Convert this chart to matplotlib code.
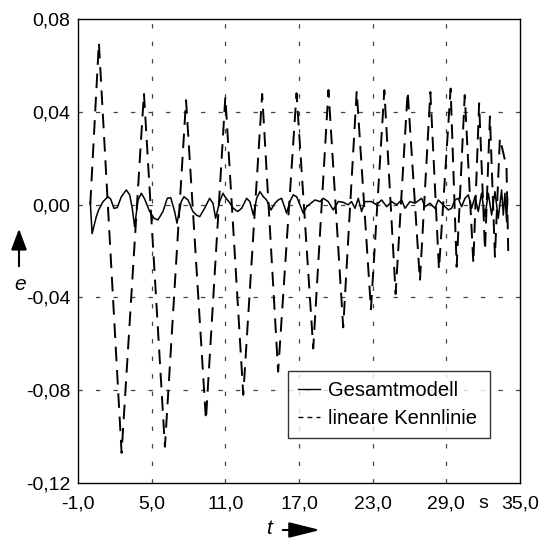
import matplotlib
matplotlib.use("Agg")
import matplotlib.pyplot as plt
from matplotlib.lines import Line2D

plt.rcParams['font.family'] = ['Liberation Sans', 'DejaVu Sans']

# ---- data ----
# "lineare Kennlinie": extrema
t_lin = [0.0, 0.7, 2.55, 4.37, 6.08, 7.8, 9.42, 11.0, 12.46, 14.0, 15.3, 16.8,
         18.16, 19.4, 20.6, 21.7, 22.86, 23.95, 24.87, 25.85, 26.85, 27.7, 28.4,
         29.35, 29.84, 30.5, 31.2, 31.67, 32.15, 32.55, 32.96, 33.36, 33.9, 34.04]
e_lin = [0.0, 0.0698, -0.107, 0.048, -0.1044, 0.045, -0.0928, 0.0464, -0.082,
         0.0477, -0.072, 0.048, -0.062, 0.0494, -0.0529, 0.049, -0.0451, 0.0493,
         -0.0385, 0.0488, -0.0328, 0.0485, -0.028, 0.050, -0.0268, 0.0472,
         -0.0253, 0.0437, -0.0196, 0.038, -0.0225, 0.0286, 0.0163, -0.020]

# "Gesamtmodell"
t_ges = [0.0, 0.15, 0.49, 0.68, 1.04, 1.44, 1.66, 1.93, 2.20, 2.53, 2.94, 3.21,
         3.42, 3.61, 3.89, 4.16, 4.43, 4.84, 5.19, 5.51, 5.92, 6.27, 6.55, 6.87,
         7.06, 7.41, 7.63, 7.96, 8.36, 8.64, 8.91, 9.31, 9.72, 9.99, 10.21, 10.54,
         10.81, 10.97, 11.38, 11.65, 12.0, 12.33, 12.73, 13.0, 13.28, 13.55, 13.82,
         14.09, 14.36, 14.72, 15.04, 15.31, 15.58, 15.86, 15.99, 16.26, 16.53,
         16.81, 17.08, 17.35, 17.62, 17.97, 18.3, 18.71, 18.98, 19.38, 19.79,
         20.2, 20.6, 21.0, 21.28, 21.56, 21.83, 22.1, 22.37, 22.91, 23.32, 23.73,
         24.14, 24.54, 24.95, 25.36, 25.63, 26.04, 26.44, 26.99, 27.26, 27.67,
         28.07, 28.34, 28.75, 29.16, 29.43, 29.7, 29.97, 30.24, 30.52, 30.79,
         31.06, 31.33, 31.6, 31.87, 32.14, 32.42, 32.69, 32.96, 33.23, 33.5,
         33.64, 33.77, 33.91, 33.99]
e_ges = [0.001, -0.0125, -0.0052, -0.0023, 0.0013, 0.0034, 0.0024, -0.0016,
         -0.0013, 0.0034, 0.0063, 0.0042, -0.0016, -0.0095, 0.0020, 0.0049,
         0.0024, -0.0030, -0.0059, -0.0066, -0.0030, 0.0027, 0.0030, -0.0030,
         -0.0080, 0.0013, 0.0034, 0.0020, -0.0030, -0.0045, -0.0052, -0.0016,
         0.0027, 0.0006, -0.0059, 0.0013, 0.0049, 0.0034, 0.0006, -0.0016,
         -0.0030, -0.0016, 0.0027, 0.0013, -0.0045, 0.0027, 0.0056, 0.0034,
         0.0020, -0.0023, 0.0006, 0.0020, 0.0027, -0.0016, -0.0037, 0.0013,
         0.0042, 0.0034, -0.0001, -0.0037, -0.0009, 0.0006, 0.0020, 0.0013,
         0.0027, 0.0013, -0.0023, 0.0013, 0.0010, -0.0001, 0.0013, -0.0016,
         0.0027, -0.0030, 0.0013, 0.0013, -0.0001, 0.0020, -0.0009, 0.0013,
         -0.0001, 0.0020, -0.0016, 0.0013, 0.0006, 0.0027, -0.0009, 0.0006,
         -0.0016, 0.0020, -0.0001, -0.0023, -0.0016, 0.0020, 0.0027, -0.0009,
         0.0027, 0.0042, -0.0016, 0.0034, -0.0030, 0.0049, -0.0052, 0.0049,
         -0.0045, 0.0056, -0.0059, 0.0063, -0.0045, 0.0049, -0.0073, 0.0027]

x_ticks = [-1.0, 5.0, 11.0, 17.0, 23.0, 29.0, 32.0, 35.0]
x_ticklabels = ['-1,0', '5,0', '11,0', '17,0', '23,0', '29,0', 's', '35,0']
x_grid = [5.0, 11.0, 17.0, 23.0, 29.0]
y_ticks = [-0.12, -0.08, -0.04, 0.00, 0.04, 0.08]
y_ticklabels = ['-0,12', '-0,08', '-0,04', '0,00', '0,04', '0,08']
y_grid = [-0.08, -0.04, 0.00, 0.04]
labels = ['Gesamtmodell', 'lineare Kennlinie']

# ---- figure ----
fig = plt.figure(figsize=(5.5, 5.43), dpi=100)
ax = fig.add_axes([78/550, 60/543, 442/550, 464/543])

for xg in x_grid:
    ax.axvline(xg, color='#444444', lw=0.9, ls=(0, (3.5, 10.5)), zorder=1)
for yg in y_grid:
    ax.axhline(yg, color='#444444', lw=0.9, ls=(0, (3.5, 10.5)), zorder=1)

ax.plot(t_lin, e_lin, color='black', lw=1.4, ls=(0, (7.5, 4.5)), zorder=3)
ax.plot(t_ges, e_ges, color='black', lw=1.1, zorder=4)

ax.set_xlim(-1, 35)
ax.set_ylim(-0.12, 0.08)
ax.set_xticks(x_ticks)
ax.set_xticklabels(x_ticklabels, fontsize=14)
ax.set_yticks(y_ticks)
ax.set_yticklabels(y_ticklabels, fontsize=14)
ax.tick_params(axis='x', length=0, pad=9)
ax.tick_params(axis='y', length=0, pad=5.5)
for s in ax.spines.values():
    s.set_color('black')
    s.set_linewidth(1.0)

handles = [Line2D([], [], color='black', lw=1.0),
           Line2D([], [], color='black', lw=1.0, ls=(0, (3.5, 3.0)))]
leg = ax.legend(handles, labels, loc='lower left',
                bbox_to_anchor=(0.474, 0.096, 0.458, 0.149), mode='expand',
                borderaxespad=0, fontsize=14.5, frameon=True, fancybox=False,
                handlelength=1.1, handletextpad=0.4, labelspacing=0.45,
                borderpad=0.5)
leg.get_frame().set_edgecolor('black')
leg.get_frame().set_linewidth(1.0)

# axis labels with arrows
fig.text(20/550, 1 - 284/543, 'e', fontsize=15, style='italic',
         ha='center', va='center')
ax.annotate('', xy=(19, 543 - 226), xytext=(19, 543 - 269),
            xycoords='figure pixels', textcoords='figure pixels',
            arrowprops=dict(arrowstyle='-|>,head_length=0.8,head_width=0.3',
                            mutation_scale=16, lw=1.5, color='black'),
            annotation_clip=False)
fig.text(269/550, 1 - 528/543, 't', fontsize=15, style='italic',
         ha='center', va='center')
ax.annotate('', xy=(323, 543 - 530), xytext=(280, 543 - 530),
            xycoords='figure pixels', textcoords='figure pixels',
            arrowprops=dict(arrowstyle='-|>,head_length=1.2,head_width=0.3',
                            mutation_scale=16, lw=1.5, color='black'),
            annotation_clip=False)

fig.savefig('out.png', dpi=100)
